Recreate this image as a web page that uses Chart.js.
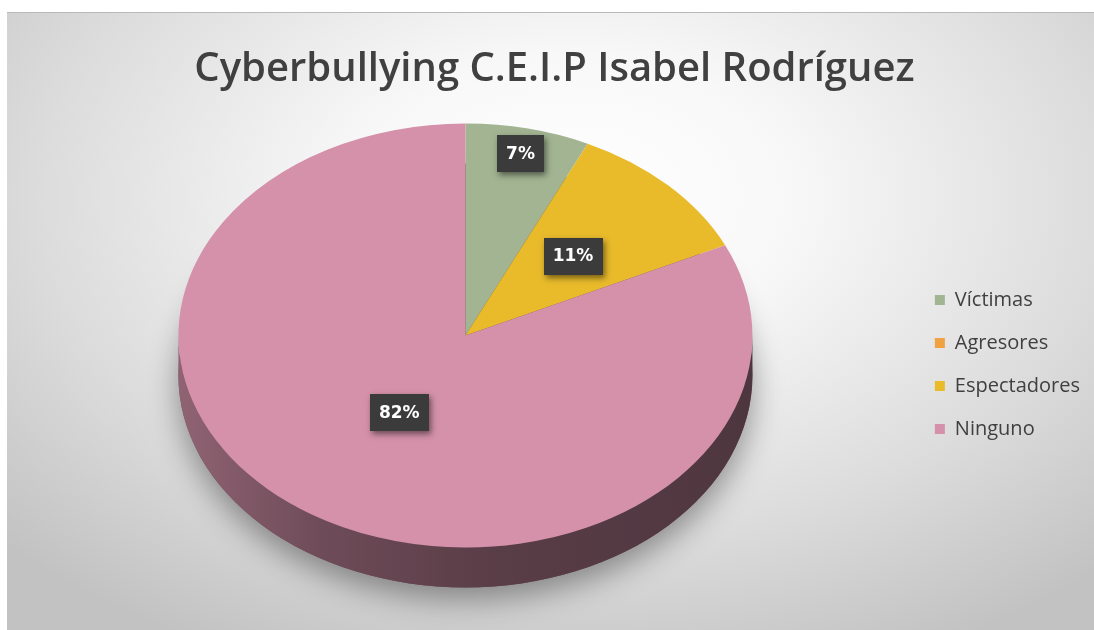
<!DOCTYPE html>
<html><head><meta charset="utf-8">
<script src="https://cdn.jsdelivr.net/npm/chart.js@4.4.1/dist/chart.umd.min.js"></script>
<style>
html,body{margin:0;padding:0;background:#fff;width:1094px;height:630px;overflow:hidden}
#frame{position:absolute;left:7px;top:12px;width:1087px;height:618px;
background:radial-gradient(ellipse 72% 82% at 52% 30%, #ffffff 0%, #f8f8f8 28%, #dcdcdc 68%, #c2c2c2 100%);}
#frame:before{content:"";position:absolute;left:0;right:0;top:0;height:1px;background:#b9b9b9}
canvas{display:block}
</style></head><body>
<div id="frame"><canvas id="c" width="1087" height="618"></canvas></div>
<script>
const chartTitle = 'Cyberbullying C.E.I.P Isabel Rodríguez';
const categories = ['Víctimas', 'Agresores', 'Espectadores', 'Ninguno'];
const values = [7, 0, 11, 82];
const sliceColors = ['#a2b492', '#f0a142', '#e9bb2b', '#d491a9'];
const labelRadius = [0.88, 0.6, 0.53, 0.43];

function hexToRgb(h){h=h.replace('#','');return [0,2,4].map(i=>parseInt(h.substr(i,2),16));}
function shade(rgb,f){return 'rgb('+rgb.map(v=>Math.round(v*f)).join(',')+')';}

const pie3d = {
  id: 'pie3d',
  beforeDatasetsDraw(chart, args, opts) {
    const ctx = chart.ctx;
    const meta = chart.getDatasetMeta(0);
    const a0 = meta.data[0];
    const cx = a0.x, cy = a0.y, R = a0.outerRadius, s = opts.tilt, d = opts.depth;
    ctx.save();
    // drop shadow under the pie
    ctx.save();
    ctx.shadowColor = 'rgba(0,0,0,0.38)';
    ctx.shadowBlur = 30;
    ctx.shadowOffsetY = 12;
    ctx.beginPath();
    ctx.ellipse(cx, cy + d, R, R * s, 0, 0, Math.PI * 2);
    ctx.fillStyle = '#6a4a56';
    ctx.fill();
    ctx.restore();
    // extruded side walls (front half only)
    meta.data.forEach((arc, i) => {
      const st = arc.startAngle, en = arc.endAngle;
      if (en - st <= 0) return;
      const rgb = hexToRgb(sliceColors[i]);
      [0, 2 * Math.PI].forEach(k => {
        const a = Math.max(st, k), b = Math.min(en, k + Math.PI);
        if (b <= a) return;
        const g = ctx.createLinearGradient(cx - R, 0, cx + R, 0);
        g.addColorStop(0, shade(rgb, 0.68));
        g.addColorStop(0.25, shade(rgb, 0.52));
        g.addColorStop(0.55, shade(rgb, 0.42));
        g.addColorStop(1, shade(rgb, 0.37));
        ctx.beginPath();
        ctx.ellipse(cx, cy, R, R * s, 0, a, b);
        ctx.ellipse(cx, cy + d, R, R * s, 0, b, a, true);
        ctx.closePath();
        ctx.fillStyle = g;
        ctx.fill();
      });
    });
    // tilt the top face
    ctx.translate(cx, cy);
    ctx.scale(1, s);
    ctx.translate(-cx, -cy);
  },
  afterDatasetsDraw(chart, args, opts) {
    const ctx = chart.ctx;
    ctx.restore();
    const meta = chart.getDatasetMeta(0);
    const a0 = meta.data[0];
    const cx = a0.x, cy = a0.y, R = a0.outerRadius, s = opts.tilt;
    const total = values.reduce((p, v) => p + v, 0);
    meta.data.forEach((arc, i) => {
      if (!values[i]) return;
      const mid = (arc.startAngle + arc.endAngle) / 2;
      const r = R * labelRadius[i];
      const x = cx + r * Math.cos(mid), y = cy + s * r * Math.sin(mid);
      const txt = Math.round(values[i] / total * 100) + '%';
      ctx.save();
      ctx.font = 'bold 17px "DejaVu Sans"';
      const w = ctx.measureText(txt).width + 18, h = 37;
      ctx.shadowColor = 'rgba(0,0,0,0.5)';
      ctx.shadowBlur = 6; ctx.shadowOffsetX = 2; ctx.shadowOffsetY = 3;
      ctx.fillStyle = '#3b3b3b';
      ctx.fillRect(Math.round(x - w / 2), Math.round(y - h / 2), Math.round(w), h);
      ctx.restore();
      ctx.save();
      ctx.font = 'bold 17px "DejaVu Sans"';
      ctx.fillStyle = '#ffffff';
      ctx.textAlign = 'center';
      ctx.textBaseline = 'middle';
      ctx.fillText(txt, x, y + 1);
      ctx.restore();
    });
  }
};

new Chart(document.getElementById('c'), {
  type: 'pie',
  data: {
    labels: categories,
    datasets: [{
      data: values,
      backgroundColor: sliceColors,
      borderWidth: 0,
      clip: false,
      radius: 287
    }]
  },
  options: {
    responsive: false,
    animation: false,
    layout: { padding: { left: 12, right: 4, top: 0, bottom: 72 } },
    plugins: {
      pie3d: { tilt: 212 / 287, depth: 40 },
      tooltip: { enabled: false },
      title: {
        display: true,
        text: chartTitle,
        color: '#404040',
        font: { family: 'Open Sans', size: 40, weight: '600', lineHeight: 1.2 },
        padding: { top: 34, bottom: 19 }
      },
      legend: {
        position: 'right',
        align: 'center',
        title: { display: true, text: ' ', font: { size: 10, lineHeight: 1 }, padding: { top: 149, bottom: 0 } },
        labels: {
          boxWidth: 10, boxHeight: 10, padding: 23,
          color: '#404040',
          font: { family: 'Open Sans', size: 20 }
        }
      }
    }
  },
  plugins: [pie3d]
});
</script>
</body></html>
